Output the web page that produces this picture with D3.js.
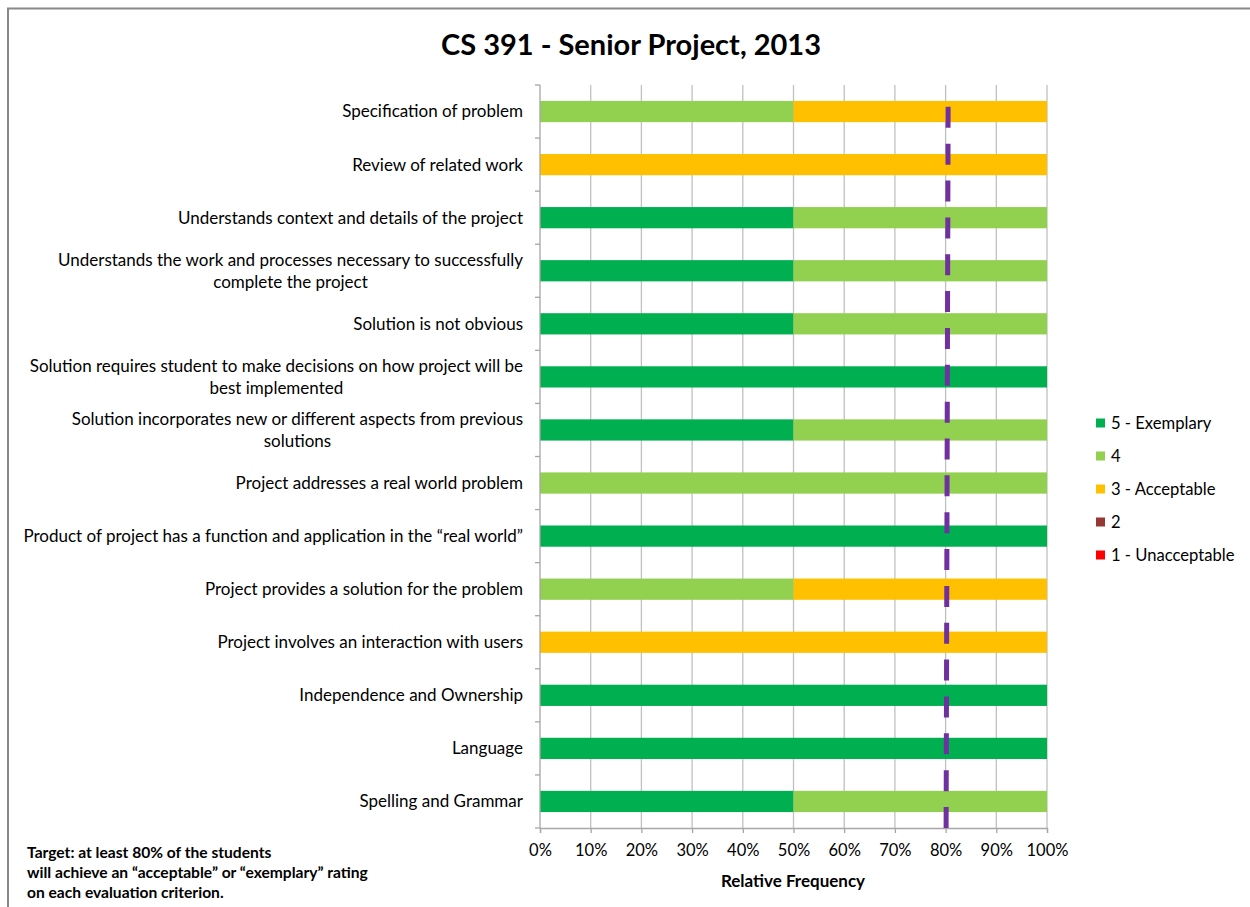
<!DOCTYPE html>
<html>
<head>
<meta charset="utf-8">
<script src="https://cdn.jsdelivr.net/npm/d3@7"></script>
<style>
  html, body { margin: 0; padding: 0; background: #fff; }
  svg { display: block; font-family: Lato, "Open Sans", sans-serif; }
</style>
</head>
<body>
<svg id="chart" width="1250" height="907"></svg>
<script>
// Evaluation criteria, top to bottom
const criteria = [
  ["Specification of problem"],
  ["Review of related work "],
  ["Understands context and details of the project "],
  ["Understands the work and processes necessary to successfully", "complete the project"],
  ["Solution is not obvious"],
  ["Solution requires student to make decisions on how project will be", "best implemented"],
  ["Solution incorporates new or different aspects from previous", "solutions"],
  ["Project addresses a real world problem "],
  ["Product of project has a function and application in the \u201creal world\u201d"],
  ["Project provides a solution for the problem"],
  ["Project involves an interaction with users"],
  ["Independence and Ownership"],
  ["Language"],
  ["Spelling and Grammar"]
];

// Relative frequency of each rating, per criterion (same order as above)
const exemplary    = [0,   0,   0.5, 0.5, 0.5, 1,   0.5, 0, 1, 0,   0, 1, 1, 0.5];
const four         = [0.5, 0,   0.5, 0.5, 0.5, 0,   0.5, 1, 0, 0.5, 0, 0, 0, 0.5];
const acceptable   = [0.5, 1,   0,   0,   0,   0,   0,   0, 0, 0.5, 1, 0, 0, 0];
const two          = [0,   0,   0,   0,   0,   0,   0,   0, 0, 0,   0, 0, 0, 0];
const unacceptable = [0,   0,   0,   0,   0,   0,   0,   0, 0, 0,   0, 0, 0, 0];

const seriesNames  = ["5 - Exemplary", "4", "3 - Acceptable", "2", "1 - Unacceptable"];
const seriesColors = ["#00B050", "#92D050", "#FFC000", "#953735", "#FF0000"];

const xTicks = [0, 0.1, 0.2, 0.3, 0.4, 0.5, 0.6, 0.7, 0.8, 0.9, 1.0];

// Target marker: 80% line (value at bottom end, value at top end)
const targetEnds = [0.801, 0.805];

const titleText = "CS 391 - Senior Project, 2013";
const xAxisTitle = "Relative Frequency";
const noteLines = [
  "Target: at least 80% of the students",
  "will achieve an \u201cacceptable\u201d or \u201cexemplary\u201d rating",
  "on each evaluation criterion."
];

// ---- build rows for stacking
const keys = seriesNames;
const rows = criteria.map((c, i) => ({
  id: i,
  [keys[0]]: exemplary[i],
  [keys[1]]: four[i],
  [keys[2]]: acceptable[i],
  [keys[3]]: two[i],
  [keys[4]]: unacceptable[i]
}));
const stacked = d3.stack().keys(keys)(rows);

const svg = d3.select("#chart");
const plot = { left: 540, right: 1047, top: 85, bottom: 828 };

const x = d3.scaleLinear().domain([0, 1]).range([plot.left, plot.right]);
const y = d3.scaleBand()
  .domain(rows.map(d => d.id))
  .range([plot.top, plot.bottom])
  .paddingInner(0.6)
  .paddingOuter(0.3);
const color = d3.scaleOrdinal().domain(keys).range(seriesColors);

// outer frame (left and top edges visible)
svg.append("path")
  .attr("d", "M8,912 L8,8.5 L1260,8.5")
  .attr("fill", "none")
  .attr("stroke", "#888")
  .attr("stroke-width", 2);

// title
svg.append("text")
  .attr("x", 631).attr("y", 55)
  .attr("text-anchor", "middle")
  .attr("font-size", 29).attr("font-weight", "bold")
  .attr("fill", "#000")
  .text(titleText);

// vertical gridlines
svg.append("g").selectAll("line")
  .data(xTicks.slice(1))
  .join("line")
  .attr("x1", d => x(d)).attr("x2", d => x(d))
  .attr("y1", plot.top).attr("y2", plot.bottom)
  .attr("stroke", "#C0C0C0").attr("stroke-width", 1.3);

// stacked bars
svg.append("g").selectAll("g")
  .data(stacked)
  .join("g")
  .attr("fill", d => color(d.key))
  .selectAll("rect")
  .data(d => d.filter(s => s[1] - s[0] > 0))
  .join("rect")
  .attr("x", d => x(d[0]))
  .attr("width", d => x(d[1]) - x(d[0]))
  .attr("y", d => y(d.data.id))
  .attr("height", y.bandwidth());

// x axis
const xAxis = svg.append("g")
  .attr("transform", `translate(0,${plot.bottom})`)
  .call(d3.axisBottom(x).tickValues(xTicks).tickFormat(d3.format(".0%")).tickSize(5).tickPadding(11));
xAxis.select(".domain").attr("stroke", "#A6A6A6").attr("stroke-width", 1.3);
xAxis.selectAll(".tick line").attr("stroke", "#A6A6A6").attr("stroke-width", 1.3);
xAxis.selectAll(".tick text")
  .attr("font-size", 16.5).attr("fill", "#000")
  .attr("font-family", "Lato, sans-serif");

// y axis: line with ticks at category boundaries
const step = y.step();
const boundaries = rows.map(d => y(d.id) - y.paddingInner() * step / 2).concat([plot.bottom]);
const yAxis = svg.append("g");
yAxis.append("line")
  .attr("x1", plot.left).attr("x2", plot.left)
  .attr("y1", plot.top).attr("y2", plot.bottom)
  .attr("stroke", "#A6A6A6").attr("stroke-width", 1.3);
yAxis.selectAll("line.tk")
  .data(boundaries)
  .join("line").attr("class", "tk")
  .attr("x1", plot.left - 5).attr("x2", plot.left)
  .attr("y1", d => d).attr("y2", d => d)
  .attr("stroke", "#A6A6A6").attr("stroke-width", 1.3);

// category labels: block right-aligned, lines centred within the block
const labelRight = 523;
const lineH = 22;
const labelG = svg.append("g").attr("font-size", 17).attr("fill", "#000");
criteria.forEach((lines, i) => {
  const cy = y(i) + y.bandwidth() / 2;
  const t = labelG.append("text").attr("text-anchor", "middle");
  const spans = lines.map((ln, k) => t.append("tspan")
    .attr("y", cy + (k - (lines.length - 1) / 2) * lineH)
    .attr("dy", "0.35em")
    .text(ln));
  const maxW = d3.max(spans, s => s.node().getComputedTextLength());
  spans.forEach(s => s.attr("x", labelRight - maxW / 2));
});

// target line (dashed, purple)
const tgt = d3.line()
  .x(d => x(d.v))
  .y(d => d.y);
svg.append("path")
  .datum([{ v: targetEnds[0], y: plot.bottom }, { v: targetEnds[1], y: plot.top + 16 }])
  .attr("d", tgt)
  .attr("fill", "none")
  .attr("stroke", "#7030A0")
  .attr("stroke-width", 5)
  .attr("stroke-dasharray", "21 15.85");

// x axis title
svg.append("text")
  .attr("x", 793).attr("y", 887)
  .attr("text-anchor", "middle")
  .attr("font-size", 17).attr("font-weight", "bold")
  .text(xAxisTitle);

// legend
const lg = svg.append("g").attr("transform", "translate(1096,423)");
const item = lg.selectAll("g").data(keys).join("g")
  .attr("transform", (d, i) => `translate(0,${i * 33})`);
item.append("rect")
  .attr("x", 0).attr("y", -4.5).attr("width", 9).attr("height", 9)
  .attr("fill", d => color(d));
item.append("text")
  .attr("x", 15).attr("y", 0).attr("dy", "0.35em")
  .attr("font-size", 16.6)
  .text(d => d);

// note
svg.append("g").selectAll("text")
  .data(noteLines)
  .join("text")
  .attr("x", 27)
  .attr("y", (d, i) => 853 + i * 20)
  .attr("dy", "0.35em")
  .attr("font-size", 15.6).attr("font-weight", "bold")
  .text(d => d);
</script>
</body>
</html>
